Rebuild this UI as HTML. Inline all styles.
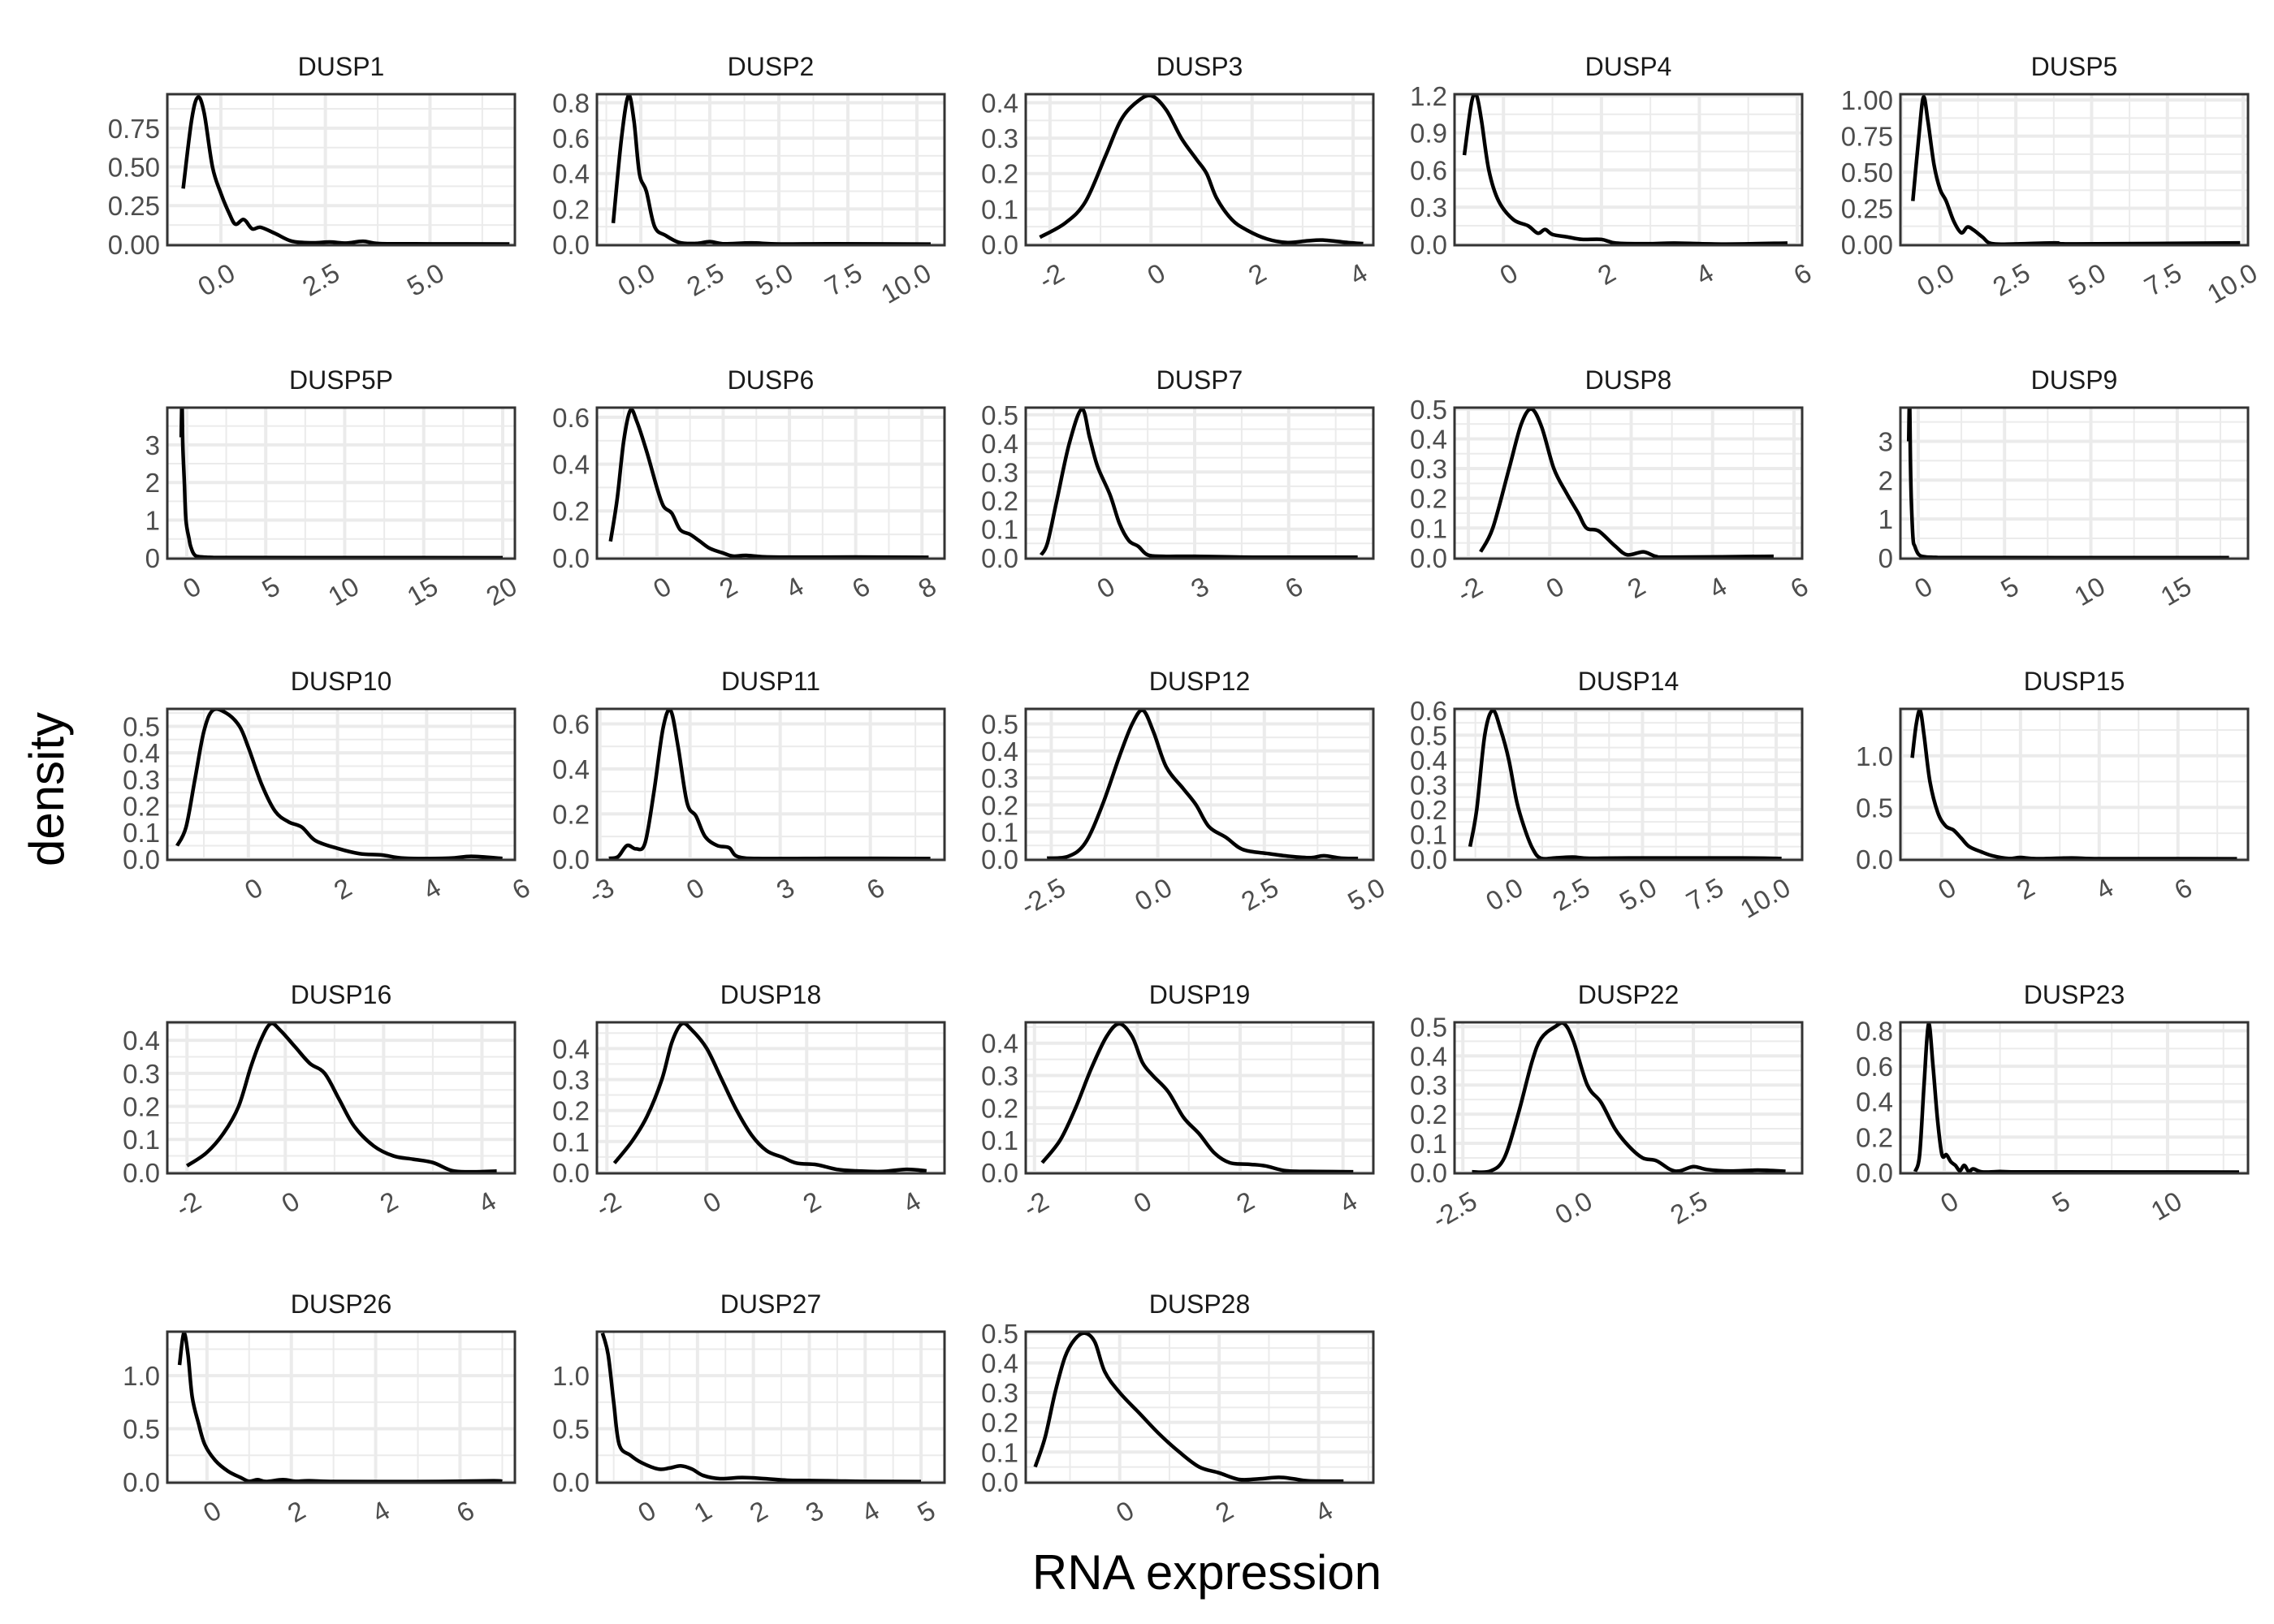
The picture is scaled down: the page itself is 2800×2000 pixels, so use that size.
<!DOCTYPE html>
<html><head><meta charset="utf-8"><title>DUSP density</title>
<style>html,body{margin:0;padding:0;background:#fff}svg{display:block}</style></head>
<body>
<svg id="chart" width="2800" height="2000" viewBox="0 0 2800 2000" xmlns="http://www.w3.org/2000/svg" font-family="Liberation Sans, Arial, sans-serif">
<rect width="2800" height="2000" fill="#fff"/>
<text x="0" y="0" transform="translate(78,972) rotate(-90)" text-anchor="middle" font-size="60" fill="#000">density</text>
<text x="1486" y="1957" text-anchor="middle" font-size="60" fill="#000">RNA expression</text>
<g id="panels"></g>
</svg>
<script>
const panelNames = ["DUSP1","DUSP2","DUSP3","DUSP4","DUSP5","DUSP5P","DUSP6","DUSP7","DUSP8","DUSP9","DUSP10","DUSP11","DUSP12","DUSP14","DUSP15","DUSP16","DUSP18","DUSP19","DUSP22","DUSP23","DUSP26","DUSP27","DUSP28"];
const xMin = [-1.28,-1.59,-2.48,-1.0,-1.31,-1.23,-1.81,-2.39,-2.34,-1.03,-1.82,-3.1,-3.1,-2.03,-1.05,-2.4,-2.2,-2.17,-2.68,-1.96,-0.94,-0.8,-1.89];
const xMax = [7.03,11.0,4.4,6.1,10.16,20.77,8.68,8.7,6.2,19.1,5.98,8.47,5.06,10.97,7.78,4.67,4.76,4.59,4.86,13.6,7.3,5.42,5.1];
const yMax = [0.96,0.84,0.42,1.2,1.03,3.95,0.635,0.52,0.5,3.83,0.56,0.66,0.55,0.6,1.44,0.45,0.48,0.46,0.51,0.84,1.4,1.4,0.5];
const xTicks = [
 [0,2.5,5],[0,2.5,5,7.5,10],[-2,0,2,4],[0,2,4,6],[0,2.5,5,7.5,10],
 [0,5,10,15,20],[0,2,4,6,8],[0,3,6],[-2,0,2,4,6],[0,5,10,15],
 [0,2,4,6],[-3,0,3,6],[-2.5,0,2.5,5],[0,2.5,5,7.5,10],[0,2,4,6],
 [-2,0,2,4],[-2,0,2,4],[-2,0,2,4],[-2.5,0,2.5],[0,5,10],
 [0,2,4,6],[0,1,2,3,4,5],[0,2,4]];
const xTickLabels = [
 ["0.0","2.5","5.0"],["0.0","2.5","5.0","7.5","10.0"],["-2","0","2","4"],["0","2","4","6"],["0.0","2.5","5.0","7.5","10.0"],
 ["0","5","10","15","20"],["0","2","4","6","8"],["0","3","6"],["-2","0","2","4","6"],["0","5","10","15"],
 ["0","2","4","6"],["-3","0","3","6"],["-2.5","0.0","2.5","5.0"],["0.0","2.5","5.0","7.5","10.0"],["0","2","4","6"],
 ["-2","0","2","4"],["-2","0","2","4"],["-2","0","2","4"],["-2.5","0.0","2.5"],["0","5","10"],
 ["0","2","4","6"],["0","1","2","3","4","5"],["0","2","4"]];
const yTicks = [
 [0,0.25,0.5,0.75],[0,0.2,0.4,0.6,0.8],[0,0.1,0.2,0.3,0.4],[0,0.3,0.6,0.9,1.2],[0,0.25,0.5,0.75,1.0],
 [0,1,2,3],[0,0.2,0.4,0.6],[0,0.1,0.2,0.3,0.4,0.5],[0,0.1,0.2,0.3,0.4,0.5],[0,1,2,3],
 [0,0.1,0.2,0.3,0.4,0.5],[0,0.2,0.4,0.6],[0,0.1,0.2,0.3,0.4,0.5],[0,0.1,0.2,0.3,0.4,0.5,0.6],[0,0.5,1.0],
 [0,0.1,0.2,0.3,0.4],[0,0.1,0.2,0.3,0.4],[0,0.1,0.2,0.3,0.4],[0,0.1,0.2,0.3,0.4,0.5],[0,0.2,0.4,0.6,0.8],
 [0,0.5,1.0],[0,0.5,1.0],[0,0.1,0.2,0.3,0.4,0.5]];
const yTickLabels = [
 ["0.00","0.25","0.50","0.75"],["0.0","0.2","0.4","0.6","0.8"],["0.0","0.1","0.2","0.3","0.4"],["0.0","0.3","0.6","0.9","1.2"],["0.00","0.25","0.50","0.75","1.00"],
 ["0","1","2","3"],["0.0","0.2","0.4","0.6"],["0.0","0.1","0.2","0.3","0.4","0.5"],["0.0","0.1","0.2","0.3","0.4","0.5"],["0","1","2","3"],
 ["0.0","0.1","0.2","0.3","0.4","0.5"],["0.0","0.2","0.4","0.6"],["0.0","0.1","0.2","0.3","0.4","0.5"],["0.0","0.1","0.2","0.3","0.4","0.5","0.6"],["0.0","0.5","1.0"],
 ["0.0","0.1","0.2","0.3","0.4"],["0.0","0.1","0.2","0.3","0.4"],["0.0","0.1","0.2","0.3","0.4"],["0.0","0.1","0.2","0.3","0.4","0.5"],["0.0","0.2","0.4","0.6","0.8"],
 ["0.0","0.5","1.0"],["0.0","0.5","1.0"],["0.0","0.1","0.2","0.3","0.4","0.5"]];
const curveX = [
 [-0.9,-0.7,-0.55,-0.4,-0.2,0,0.2,0.35,0.55,0.75,0.95,1.3,1.7,2.2,2.6,3,3.4,3.8,5,6.9],
 [-1.0,-0.7,-0.45,-0.25,-0.05,0.2,0.5,0.9,1.4,2,2.5,3,4,5,7,10.5],
 [-2.2,-1.7,-1.3,-0.9,-0.6,-0.3,0.0,0.3,0.6,0.9,1.1,1.3,1.6,1.9,2.3,2.7,3.1,3.4,3.9,4.2],
 [-0.8,-0.65,-0.55,-0.45,-0.3,-0.1,0.2,0.5,0.7,0.85,1.0,1.3,1.6,2.0,2.3,3,3.5,4.5,5.8],
 [-0.9,-0.7,-0.55,-0.4,-0.2,0,0.2,0.45,0.7,0.9,1.1,1.4,1.7,2.5,3.8,4.5,9.9],
 [-0.35,-0.3,-0.25,-0.15,-0.05,0.15,0.25,0.45,0.75,1.6,3,20],
 [-1.4,-1.2,-1.0,-0.8,-0.6,-0.3,0,0.2,0.45,0.7,1.0,1.3,1.6,2.0,2.3,2.7,3.5,6,8.2],
 [-1.9,-1.7,-1.4,-1.0,-0.6,-0.35,-0.1,0.3,0.6,0.9,1.2,1.5,2,3,5,8.2],
 [-1.7,-1.4,-1.0,-0.7,-0.45,-0.2,0.1,0.4,0.7,0.9,1.2,1.6,1.9,2.3,2.6,3,5.5],
 [-0.55,-0.5,-0.45,-0.4,-0.3,-0.2,0,0.3,1,3,18],
 [-1.6,-1.4,-1.2,-1.0,-0.8,-0.5,-0.2,0,0.3,0.6,0.9,1.2,1.5,2,2.5,3,3.5,4.5,5,5.7],
 [-2.7,-2.4,-2.1,-1.8,-1.5,-1.2,-0.9,-0.65,-0.4,-0.1,0.2,0.5,0.9,1.3,1.6,2.5,5,8],
 [-2.6,-2.1,-1.7,-1.3,-0.9,-0.6,-0.35,-0.1,0.2,0.6,0.9,1.2,1.6,2.0,2.6,3.1,3.6,3.9,4.3,4.7],
 [-1.45,-1.2,-0.9,-0.6,-0.3,0,0.3,0.6,0.9,1.2,1.8,2.4,3,4.5,8.6,10.2],
 [-0.75,-0.65,-0.55,-0.45,-0.3,-0.1,0.1,0.3,0.5,0.7,1.0,1.3,1.7,2.0,2.4,3.3,4,6,7.5],
 [-2.0,-1.6,-1.25,-0.95,-0.7,-0.5,-0.3,-0.1,0.2,0.5,0.8,1.1,1.4,1.8,2.2,2.6,3.0,3.4,3.8,4.3],
 [-1.85,-1.5,-1.2,-0.9,-0.7,-0.5,-0.3,0,0.3,0.6,0.9,1.2,1.5,1.8,2.2,2.6,3,3.5,4.0,4.4],
 [-1.85,-1.5,-1.2,-0.9,-0.6,-0.35,-0.1,0.1,0.3,0.6,0.9,1.2,1.5,1.8,2.2,2.5,2.9,3.5,4.2],
 [-2.3,-1.9,-1.6,-1.3,-1.0,-0.8,-0.5,-0.3,-0.1,0.2,0.5,0.8,1.1,1.4,1.7,2.0,2.2,2.5,2.8,3.3,3.9,4.5],
 [-1.3,-1.1,-0.9,-0.7,-0.5,-0.3,-0.1,0.1,0.3,0.5,0.7,0.9,1.1,1.3,1.7,2.5,3,4,13.2],
 [-0.65,-0.55,-0.45,-0.35,-0.2,-0.05,0.2,0.5,0.8,1.0,1.2,1.4,1.8,2.1,2.4,3,4,5.5,6.8,7.0],
 [-0.7,-0.6,-0.5,-0.4,-0.2,0,0.3,0.5,0.7,0.9,1.1,1.4,1.8,2.2,2.6,3,3.5,4,5.0],
 [-1.7,-1.5,-1.3,-1.1,-0.9,-0.7,-0.5,-0.3,0,0.4,0.8,1.2,1.6,2.0,2.4,2.8,3.2,3.5,3.8,4.5]];
const curveY = [
 [0.36,0.8,0.95,0.85,0.5,0.33,0.2,0.13,0.16,0.1,0.11,0.07,0.02,0.01,0.015,0.008,0.02,0.005,0.003,0.002],
 [0.12,0.6,0.84,0.7,0.4,0.3,0.1,0.05,0.01,0.005,0.015,0.003,0.008,0.002,0.003,0.001],
 [0.02,0.06,0.12,0.25,0.35,0.4,0.42,0.38,0.3,0.24,0.2,0.13,0.07,0.04,0.015,0.005,0.01,0.012,0.005,0.002],
 [0.72,1.15,1.2,1.0,0.6,0.35,0.2,0.15,0.09,0.12,0.08,0.06,0.04,0.04,0.01,0.005,0.01,0.002,0.01],
 [0.3,0.75,1.02,0.85,0.55,0.38,0.3,0.16,0.08,0.12,0.1,0.05,0.005,0.003,0.01,0.003,0.01],
 [3.2,4.2,3.0,2.0,1.0,0.5,0.3,0.1,0.03,0.01,0.005,0.001],
 [0.07,0.25,0.5,0.63,0.58,0.45,0.3,0.22,0.19,0.12,0.1,0.07,0.04,0.02,0.007,0.01,0.003,0.003,0.002],
 [0.01,0.05,0.2,0.4,0.52,0.42,0.32,0.22,0.12,0.06,0.04,0.01,0.005,0.005,0.002,0.002],
 [0.02,0.1,0.3,0.45,0.5,0.44,0.3,0.22,0.15,0.1,0.09,0.04,0.01,0.02,0.005,0.002,0.005],
 [3.0,4.1,2.5,1.5,0.5,0.3,0.1,0.03,0.01,0.005,0.002],
 [0.05,0.12,0.3,0.48,0.56,0.55,0.5,0.42,0.28,0.18,0.14,0.12,0.07,0.04,0.02,0.015,0.003,0.003,0.01,0.002],
 [0.003,0.01,0.06,0.045,0.07,0.3,0.58,0.66,0.5,0.25,0.19,0.1,0.06,0.05,0.01,0.002,0.003,0.002],
 [0.003,0.01,0.06,0.2,0.38,0.5,0.55,0.47,0.34,0.26,0.2,0.12,0.08,0.035,0.02,0.01,0.005,0.012,0.003,0.002],
 [0.05,0.2,0.5,0.6,0.52,0.4,0.23,0.12,0.04,0.003,0.005,0.008,0.003,0.004,0.004,0.002],
 [0.98,1.3,1.44,1.2,0.75,0.45,0.32,0.28,0.2,0.12,0.07,0.03,0.005,0.015,0.003,0.01,0.003,0.003,0.002],
 [0.02,0.06,0.12,0.2,0.32,0.4,0.45,0.43,0.38,0.33,0.3,0.22,0.14,0.08,0.05,0.04,0.03,0.005,0.002,0.004],
 [0.03,0.1,0.18,0.3,0.42,0.48,0.46,0.4,0.3,0.2,0.12,0.07,0.05,0.03,0.025,0.01,0.005,0.003,0.01,0.005],
 [0.03,0.1,0.2,0.32,0.42,0.46,0.42,0.34,0.3,0.25,0.17,0.12,0.06,0.03,0.025,0.02,0.005,0.003,0.002],
 [0.002,0.005,0.05,0.2,0.38,0.46,0.5,0.51,0.45,0.3,0.24,0.15,0.09,0.05,0.04,0.01,0.005,0.02,0.01,0.005,0.008,0.004],
 [0.005,0.1,0.5,0.84,0.6,0.3,0.1,0.1,0.06,0.04,0.01,0.04,0.005,0.02,0.003,0.005,0.003,0.003,0.002],
 [1.1,1.4,1.2,0.8,0.55,0.35,0.2,0.1,0.04,0.005,0.02,0.003,0.02,0.005,0.01,0.003,0.002,0.003,0.01,0.002],
 [1.4,1.2,0.75,0.35,0.25,0.18,0.12,0.13,0.15,0.12,0.06,0.03,0.04,0.03,0.015,0.012,0.008,0.004,0.002],
 [0.05,0.15,0.3,0.42,0.48,0.5,0.47,0.37,0.3,0.23,0.16,0.1,0.05,0.03,0.008,0.01,0.015,0.01,0.003,0.002]];

// layout (not data)
const colLefts = [206, 735, 1263, 1791, 2340];
const rowTops = [116, 502, 873, 1259, 1640];
const PW = 428, PH = 186;
const NS = "http://www.w3.org/2000/svg";
const root = document.getElementById("panels");

function mk(tag, attrs, parent) {
  const e = document.createElementNS(NS, tag);
  for (const k in attrs) e.setAttribute(k, attrs[k]);
  parent.appendChild(e);
  return e;
}
function smoothPath(pts) {
  let d = "M" + pts[0][0].toFixed(2) + "," + pts[0][1].toFixed(2);
  for (let i = 0; i < pts.length - 1; i++) {
    const p0 = pts[Math.max(0, i - 1)], p1 = pts[i], p2 = pts[i + 1], p3 = pts[Math.min(pts.length - 1, i + 2)];
    const c1x = p1[0] + (p2[0] - p0[0]) / 6, c1y = p1[1] + (p2[1] - p0[1]) / 6;
    const c2x = p2[0] - (p3[0] - p1[0]) / 6, c2y = p2[1] - (p3[1] - p1[1]) / 6;
    d += "C" + c1x.toFixed(2) + "," + c1y.toFixed(2) + " " + c2x.toFixed(2) + "," + c2y.toFixed(2) + " " + p2[0].toFixed(2) + "," + p2[1].toFixed(2);
  }
  return d;
}

panelNames.forEach(function (name, i) {
  const L = colLefts[i % 5], T = rowTops[Math.floor(i / 5)];
  const x0 = xMin[i], x1 = xMax[i];
  const y0 = -yMax[i] * 0.006, y1 = yMax[i] * 1.01;
  const sx = function (v) { return L + (v - x0) / (x1 - x0) * PW; };
  const sy = function (v) { return T + PH - (v - y0) / (y1 - y0) * PH; };

  const g = mk("g", {}, root);
  
  

  const clip = mk("clipPath", { id: "clip" + i }, g);
  mk("rect", { x: L, y: T, width: PW, height: PH }, clip);

  const grid = mk("g", {}, g);
  
  
  const xt = xTicks[i];
  const xs = xt.length > 1 ? xt[1] - xt[0] : 1;
  for (let v = xt[0] - xs * 3; v <= xt[xt.length - 1] + xs * 3; v += xs) {
    const m = v + xs / 2;
    if (m > x0 && m < x1) mk("line", { x1: sx(m), x2: sx(m), y1: T, y2: T + PH, stroke: "#ebebeb", "stroke-width": 2 }, grid);
    if (v > x0 && v < x1) mk("line", { x1: sx(v), x2: sx(v), y1: T, y2: T + PH, stroke: "#ebebeb", "stroke-width": 4 }, grid);
  }
  const yt = yTicks[i];
  const ys = yt[1] - yt[0];
  for (let v = yt[0] - ys; v <= yt[yt.length - 1] + ys * 2; v += ys) {
    const m = v + ys / 2;
    if (m > y0 && m < y1) mk("line", { x1: L, x2: L + PW, y1: sy(m), y2: sy(m), stroke: "#ebebeb", "stroke-width": 2 }, grid);
    if (v > y0 && v < y1) mk("line", { x1: L, x2: L + PW, y1: sy(v), y2: sy(v), stroke: "#ebebeb", "stroke-width": 4 }, grid);
  }

  const pts = curveX[i].map(function (v, k) { return [sx(v), sy(curveY[i][k])]; });
  const line = mk("path", { d: smoothPath(pts), fill: "none", stroke: "#000", "stroke-width": 4.5, "stroke-linejoin": "round", "clip-path": "url(#clip" + i + ")" }, g);
  
  

  const border = mk("rect", { x: L, y: T, width: PW, height: PH, fill: "none", stroke: "#333333", "stroke-width": 3 }, g);
  
  

  const title = mk("text", { x: L + PW / 2, y: T - 23, "text-anchor": "middle", "font-size": 32, fill: "#1a1a1a" }, g);
  title.textContent = name;
  
  

  yt.forEach(function (v, k) {
    const t = mk("text", { x: L - 9, y: sy(v) + 12, "text-anchor": "end", "font-size": 33, fill: "#4d4d4d" }, g);
    t.textContent = yTickLabels[i][k];
    
    
  });
  xt.forEach(function (v, k) {
    const px = sx(v) + 8, py = T + PH + 20;
    const t = mk("text", { x: px, y: py, "text-anchor": "end", "font-size": 33, fill: "#4d4d4d", "dominant-baseline": "hanging", transform: "rotate(-30 " + px + " " + py + ")" }, g);
    t.textContent = xTickLabels[i][k];
    
    
  });
});
</script>
</body></html>
